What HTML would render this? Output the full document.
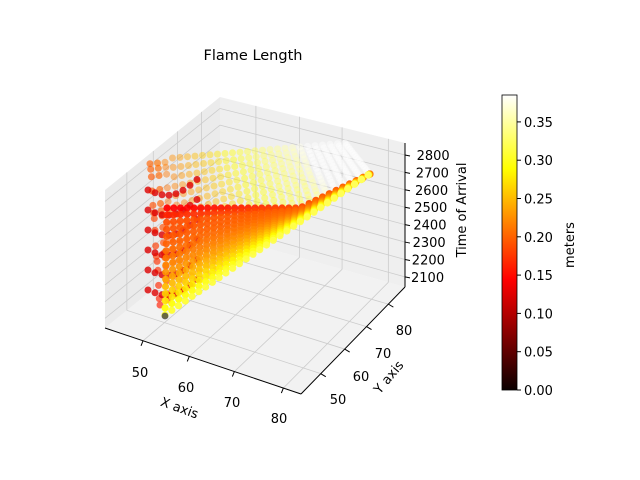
<!DOCTYPE html>
<html><head><meta charset="utf-8"><style>
body{margin:0;background:#fff;}
svg{display:block;font-family:"DejaVu Sans","Liberation Sans",sans-serif;}
</style></head><body>
<svg id="s" width="640" height="480" viewBox="0 0 640 480" xmlns="http://www.w3.org/2000/svg">
<defs>
<linearGradient id="hot" x1="0" y1="1" x2="0" y2="0">
<stop offset="0" stop-color="#0b0000"/>
<stop offset="0.375" stop-color="#ff0000"/>
<stop offset="0.75" stop-color="#ffff00"/>
<stop offset="1" stop-color="#ffffff"/>
</linearGradient>
</defs>
<rect width="640" height="480" fill="#fff"/>
<g id="panes"></g>
<g id="pts"></g>
<g id="axes"></g>
<text x="253" y="60" font-size="14.5" text-anchor="middle">Flame Length</text>
<rect x="502" y="95" width="15" height="295" fill="url(#hot)" stroke="#000" stroke-width="0.8"/>
<g id="cb"></g>
<text transform="translate(574,245) rotate(-90)" font-size="13" text-anchor="middle">meters</text>
<text transform="translate(466,210) rotate(-90)" font-size="13" text-anchor="middle">Time of Arrival</text>
<text transform="translate(178,412) rotate(20)" font-size="13" text-anchor="middle">X axis</text>
<text transform="translate(392,380) rotate(-50)" font-size="13" text-anchor="middle">Y axis</text>
</svg>
<script>
var NS="http://www.w3.org/2000/svg";
function el(p,t,a,txt){var e=document.createElementNS(NS,t);for(var k in a)e.setAttribute(k,a[k]);if(txt!==undefined)e.textContent=txt;document.getElementById(p).appendChild(e);return e;}
var L=[105,328],F=[301,394],R=[405,287],B=[220,235];
function fl(u,v){var a=[L[0]+(F[0]-L[0])*u,L[1]+(F[1]-L[1])*u];var b=[B[0]+(R[0]-B[0])*u,B[1]+(R[1]-B[1])*u];return [a[0]+(b[0]-a[0])*v,a[1]+(b[1]-a[1])*v];}
function H(u,v){return 138+6*u;}
function P(u,v,w){var f=fl(u,v);return [f[0],f[1]-H(u,v)*w];}
function poly(g,pts,fill){el(g,"polygon",{points:pts.map(function(p){return p[0].toFixed(1)+","+p[1].toFixed(1)}).join(" "),fill:fill,stroke:"none"});}
function line(g,a,b,c,w){el(g,"line",{x1:a[0],y1:a[1],x2:b[0],y2:b[1],stroke:c,"stroke-width":w||0.8});}
poly("panes",[P(0,0,0),P(1,0,0),P(1,1,0),P(0,1,0)],"#f2f2f2");
poly("panes",[P(0,0,0),P(0,1,0),P(0,1,1),P(0,0,1)],"#ebebeb");
poly("panes",[P(0,1,0),P(1,1,0),P(1,1,1),P(0,1,1)],"#efefef");
var xt=[0.194,0.43,0.66,0.91],yt=[0.19,0.42,0.63,0.84],zt=[];
for(var i=0;i<8;i++)zt.push(0.07+0.121*i);
var gc="#cccccc";
xt.forEach(function(u){line("panes",P(u,0,0),P(u,1,0),gc);line("panes",P(u,1,0),P(u,1,1),gc);});
yt.forEach(function(v){line("panes",P(1,v,0),P(0,v,0),gc);line("panes",P(0,v,0),P(0,v,1),gc);});
zt.forEach(function(w){line("panes",P(0,0,w),P(0,1,w),gc);line("panes",P(0,1,w),P(1,1,w),gc);});
line("axes",P(0,0,0),P(1,0,0),"#000",1);
line("axes",P(1,0,0),P(1,1,0),"#000",1);
line("axes",P(1,1,0),P(1,1,1),"#000",1);
xt.forEach(function(u,i){var p=P(u,0,0);line("axes",p,[p[0]-2,p[1]+5],"#000",1);
 el("axes","text",{x:[140,186,232,279][i],y:[377,392,407,423][i],"font-size":"13","text-anchor":"middle"},["50","60","70","80"][i]);});
yt.forEach(function(v,i){var p=P(1,v,0);line("axes",p,[p[0]+5,p[1]+3],"#000",1);
 el("axes","text",{x:[338,361,383,404][i],y:[404,381,358,335][i],"font-size":"13","text-anchor":"middle"},["50","60","70","80"][i]);});
zt.forEach(function(w,i){var p=P(1,1,w);line("axes",p,[p[0]+5,p[1]+1],"#000",1);
 el("axes","text",{x:p[0]+6+(i*0.8),y:p[1]+5,"font-size":"13"},String(2100+100*i));});
for(var i=0;i<8;i++){var y=390-i*0.05*766;line("cb",[517,y],[521,y],"#000",1);el("cb","text",{x:524,y:y+5,"font-size":"13"},(i*0.05).toFixed(2));}
function hot(t){t=Math.max(0,Math.min(1,t));var r=Math.min(1,0.0416+t/0.375),g=Math.max(0,Math.min(1,(t-0.375)/0.375)),b=Math.max(0,Math.min(1,(t-0.75)/0.25));
return "rgb("+Math.round(r*255)+","+Math.round(g*255)+","+Math.round(b*255)+")";}
function bil(c,s,t){var a=[c[0][0]+(c[1][0]-c[0][0])*s,c[0][1]+(c[1][1]-c[0][1])*s];var b=[c[3][0]+(c[2][0]-c[3][0])*s,c[3][1]+(c[2][1]-c[3][1])*s];return [a[0]+(b[0]-a[0])*t,a[1]+(b[1]-a[1])*t];}
var back=[[160,305],[368,172],[345,143],[150,160]];
var NS_=26,NT=14;
for(var j=NT;j>=0;j--)for(var i=0;i<=NS_;i++){var s=i/NS_,t=j/NT;var p=bil(back,s,t);
 var c=0.16+0.22*s+0.04*t; if(s>0.75)c+=0.12*(s-0.75)/0.25;
 el("pts","circle",{cx:p[0].toFixed(1),cy:(p[1]+(s<0.1?Math.sin(t*20)*4:0)).toFixed(1),r:3.5,fill:hot(c/0.385),"fill-opacity":i<2?0.65:0.45});}
for(var k=0;k<6;k++){var y0=190+k*20;for(var i=0;i<8;i++){var x=148+i*7;var y=y0+10*Math.sin(i/7*Math.PI)-i*1.5;
 el("pts","circle",{cx:x,cy:y.toFixed(1),r:3.5,fill:"#dd0000","fill-opacity":0.8});}}
function topY(x){ if(x<300) return 208; return 208-(x-300)/70*34; }
for(var j=15;j>=0;j--)for(var i=0;i<=30;i++){var s=i/30,t=j/15;
 var bx=165+(368-165)*s, by=315+(175-315)*s;
 var tx=167+(370-167)*s, ty=topY(tx);
 var x=bx+(tx-bx)*t, y=by+(ty-by)*t;
 if(y>by) y=by;
 var c=0.185+0.12*Math.pow(1-t,2)+0.02*s;
 if(j==15) c=0.14+0.06*s;
 if(j==14) c=0.165+0.04*s;
 el("pts","circle",{cx:x.toFixed(1),cy:y.toFixed(1),r:3.6,fill:hot(c/0.385),"fill-opacity":0.92});}
el("pts","circle",{cx:165,cy:316,r:3.4,fill:"#444","fill-opacity":0.8});
</script>
</body></html>
